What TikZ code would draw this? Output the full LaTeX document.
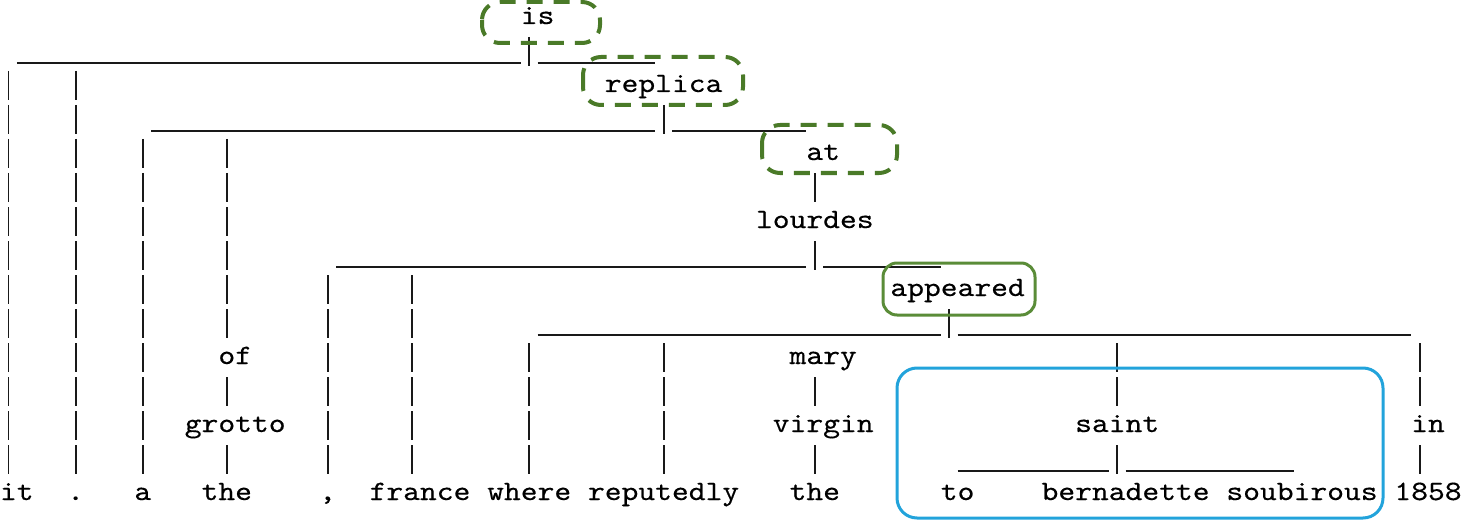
\documentclass[tikz,border=0pt]{standalone}
\usepackage{fontspec}
\newfontfamily\treefont{lmmono10-regular.otf}[FakeStretch=1.143, FakeBold=0.3]
\definecolor{hlgreen}{HTML}{4A7A28}
\definecolor{hlolive}{HTML}{5A8C38}
\definecolor{hlblue}{HTML}{22A3DB}

% one column of the text grid, in px
\newcommand\cw{16.8}
% word: name, first column, length, row, text
\newcommand\word[5]{\node[word] (#1) at ({(#2+#3/2)*\cw},{24+34*#4}) {#5};}
% vertical bar in one column, from row to row
\newcommand\riser[3]{\draw[riser] ({(#1+.5)*\cw},{3+34*#2}) -- ({(#1+.5)*\cw},{32+34*#3});}
% horizontal line: from column, stub column, to column, row
\newcommand\tie[4]{\draw[tieline] ({#1*\cw},{29+34*#4}) -- ({#2*\cw},{29+34*#4})
  ({(#2+1)*\cw},{29+34*#4}) -- ({(#3+1)*\cw},{29+34*#4});}

\begin{document}
\begin{tikzpicture}[
  x=1pt, y=-1pt,
  word/.style={font=\treefont\fontsize{28}{34}\selectfont, anchor=base,
               inner sep=0pt, text=black},
  riser/.style={line width=1.8pt, draw=black!90, dash pattern=on 29pt off 5pt},
  tieline/.style={line width=1.8pt, draw=black!90},
  hl/.style={draw=hlolive, line width=3pt, rounded corners=14pt},
  hldash/.style={draw=hlgreen, line width=4pt, rounded corners=18pt,
                 dash pattern=on 16pt off 11pt},
  spanbox/.style={draw=hlblue, line width=3pt, rounded corners=20pt}]

  \useasboundingbox (0,0) rectangle (1470,524);

  % inner words
  \word{is}{31}{2}{0}{is}
  \word{replica}{36}{7}{2}{replica}
  \word{at}{48}{2}{4}{at}
  \word{lourdes}{45}{7}{6}{lourdes}
  \word{appeared}{53}{8}{8}{appeared}
  \word{of}{13}{2}{10}{of}
  \word{mary}{47}{4}{10}{mary}
  \word{grotto}{11}{6}{12}{grotto}
  \word{virgin}{46}{6}{12}{virgin}
  \word{saint}{64}{5}{12}{saint}
  \word{in}{84}{2}{12}{in}

  % leaves
  \word{it}{0}{2}{14}{it}
  \word{dot}{4}{1}{14}{.}
  \word{a}{8}{1}{14}{a}
  \word{the1}{12}{3}{14}{the}
  \word{comma}{19}{1}{14}{,}
  \word{france}{22}{6}{14}{france}
  \word{where}{29}{5}{14}{where}
  \word{reputedly}{35}{9}{14}{reputedly}
  \word{the2}{47}{3}{14}{the}
  \word{to}{56}{2}{14}{to}
  \word{bernadette}{62}{10}{14}{bernadette}
  \word{soubirous}{73}{9}{14}{soubirous}
  \word{year}{83}{4}{14}{1858}

  % horizontal lines
  \tie{1}{31}{38}{1}
  \tie{9}{39}{47}{3}
  \tie{20}{48}{55}{7}
  \tie{32}{56}{83}{9}
  \tie{57}{66}{76}{13}

  % stubs under heads
  \foreach \c/\r in {31/1, 39/3, 48/5, 48/7, 56/9, 13/11, 13/13, 48/11, 48/13, 66/13, 84/13}
    \riser{\c}{\r}{\r};

  % long bars
  \foreach \c/\a/\b in {0/2/13, 4/2/13, 8/4/13, 13/4/9, 19/8/13, 24/8/13,
                        31/10/13, 39/10/13, 66/10/11, 84/10/11}
    \riser{\c}{\a}{\b};

  % highlights
  \draw[hldash] (482,2) rectangle (600,43);
  \draw[hldash] (583,57) rectangle (743,105);
  \draw[hldash] (762,125) rectangle (897,173);
  \draw[hl] (883,263) rectangle (1035,315);
  \draw[spanbox] (897,368) rectangle (1383,518);
\end{tikzpicture}
\end{document}
